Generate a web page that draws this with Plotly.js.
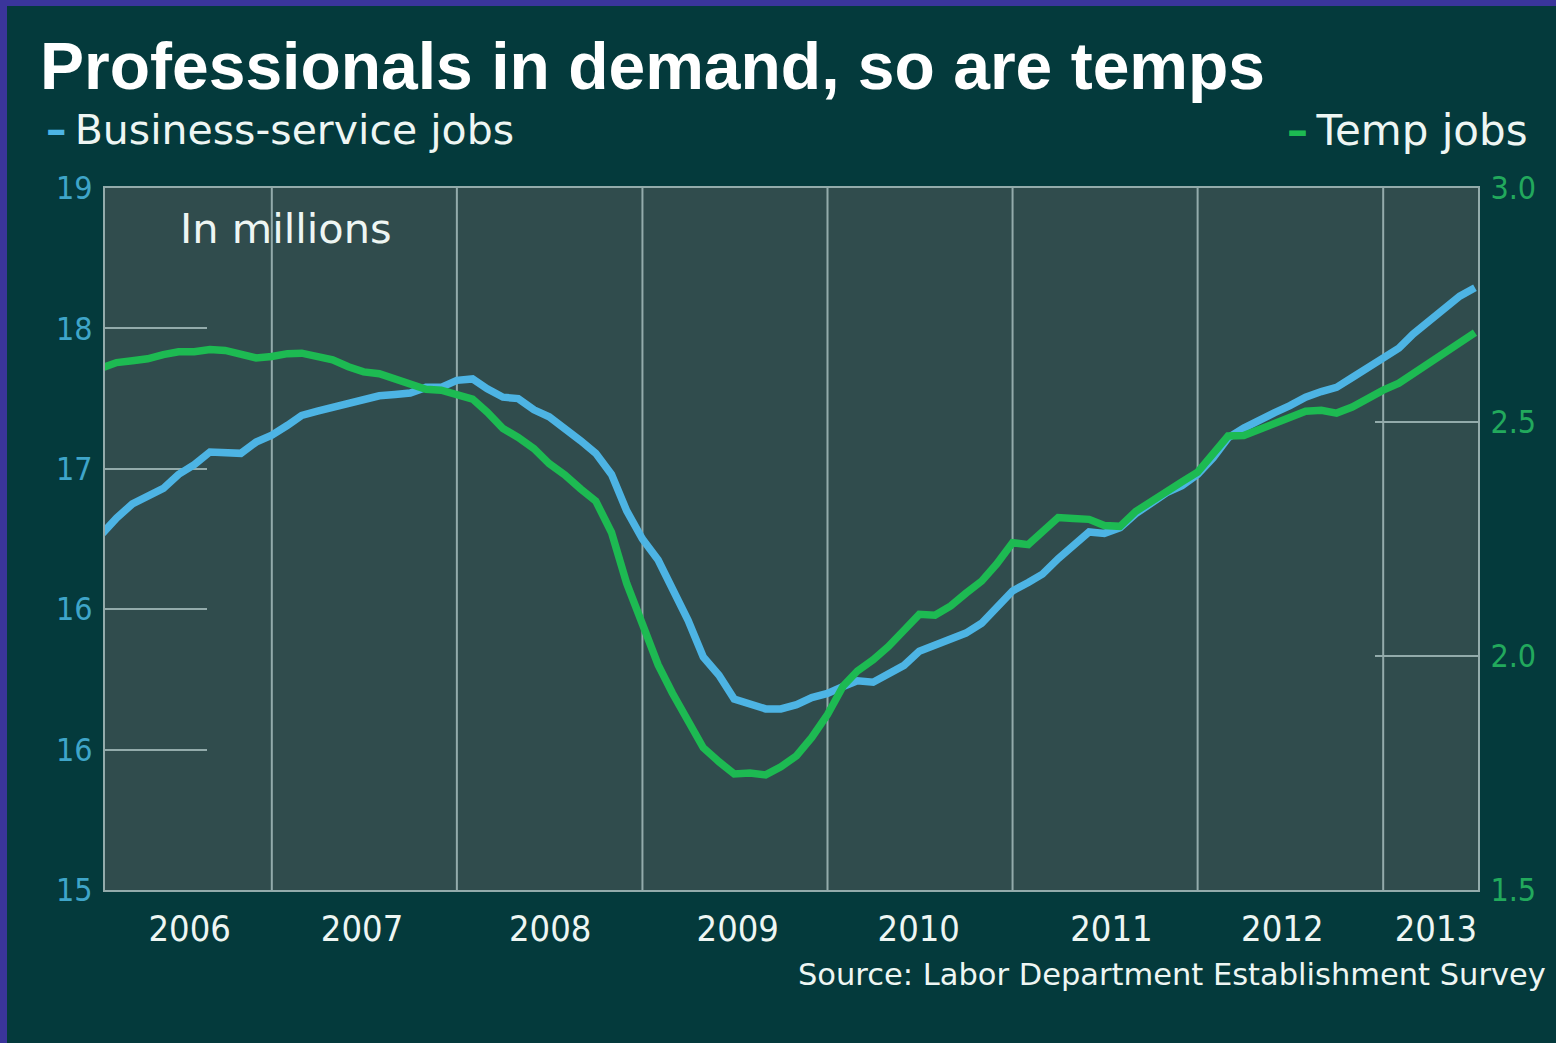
<!DOCTYPE html>
<html>
<head>
<meta charset="utf-8">
<script src="https://cdn.plot.ly/plotly-3.0.1.min.js"></script>
<style>
  html, body { margin: 0; padding: 0; background: #3a359b; width: 1556px; height: 1043px; overflow: hidden; }
  #chart { position: absolute; left: 7px; top: 6px; width: 1549px; height: 1037px; }
</style>
</head>
<body>
<div id="chart"></div>
<script>
// ---- data ----
const months = [
  '2006-02-01','2006-03-01','2006-04-01','2006-05-01','2006-06-01','2006-07-01','2006-08-01','2006-09-01','2006-10-01','2006-11-01','2006-12-01',
  '2007-01-01','2007-02-01','2007-03-01','2007-04-01','2007-05-01','2007-06-01','2007-07-01','2007-08-01','2007-09-01','2007-10-01','2007-11-01','2007-12-01',
  '2008-01-01','2008-02-01','2008-03-01','2008-04-01','2008-05-01','2008-06-01','2008-07-01','2008-08-01','2008-09-01','2008-10-01','2008-11-01','2008-12-01',
  '2009-01-01','2009-02-01','2009-03-01','2009-04-01','2009-05-01','2009-06-01','2009-07-01','2009-08-01','2009-09-01','2009-10-01','2009-11-01','2009-12-01',
  '2010-01-01','2010-02-01','2010-03-01','2010-04-01','2010-05-01','2010-06-01','2010-07-01','2010-08-01','2010-09-01','2010-10-01','2010-11-01','2010-12-01',
  '2011-01-01','2011-02-01','2011-03-01','2011-04-01','2011-05-01','2011-06-01','2011-07-01','2011-08-01','2011-09-01','2011-10-01','2011-11-01','2011-12-01',
  '2012-01-01','2012-02-01','2012-03-01','2012-04-01','2012-05-01','2012-06-01','2012-07-01','2012-08-01','2012-09-01','2012-10-01','2012-11-01','2012-12-01',
  '2013-01-01','2013-02-01','2013-03-01','2013-04-01','2013-05-01','2013-06-01','2013-07-01'
];

// Business-service jobs (left axis, in the chart's own scale)
const businessJobs = [
  16.54,16.65,16.75,16.81,16.86,16.96,17.03,17.12,17.12,17.11,17.19,
  17.24,17.31,17.38,17.41,17.44,17.47,17.50,17.52,17.53,17.54,17.58,17.58,
  17.63,17.64,17.57,17.51,17.50,17.42,17.37,17.29,17.20,17.11,16.96,16.70,
  16.50,16.35,16.14,15.92,15.66,15.53,15.36,15.33,15.29,15.29,15.32,15.37,
  15.40,15.45,15.49,15.48,15.54,15.60,15.70,15.74,15.79,15.83,15.90,16.01,
  16.13,16.19,16.25,16.36,16.45,16.55,16.54,16.58,16.68,16.76,16.83,16.88,
  16.96,17.08,17.22,17.29,17.35,17.40,17.45,17.51,17.55,17.58,17.65,17.72,
  17.79,17.86,17.96,18.05,18.15,18.23,18.29
];

// Temp jobs (right axis, millions)
const tempJobs = [
  2.616,2.627,2.631,2.635,2.644,2.650,2.650,2.655,2.653,2.644,2.637,
  2.640,2.646,2.647,2.641,2.633,2.618,2.607,2.603,2.592,2.579,2.570,2.568,
  2.560,2.549,2.521,2.486,2.467,2.443,2.411,2.387,2.357,2.331,2.264,2.155,
  2.068,1.981,1.921,1.858,1.804,1.774,1.748,1.750,1.746,1.763,1.787,1.826,
  1.875,1.936,1.968,1.992,2.020,2.055,2.089,2.087,2.107,2.134,2.160,2.197,
  2.242,2.238,2.264,2.296,2.294,2.292,2.279,2.277,2.309,2.331,2.352,2.372,
  2.393,2.435,2.470,2.471,2.484,2.499,2.512,2.523,2.525,2.519,2.532,2.551,
  2.568,2.583,2.603,2.624,2.644,2.670,2.691
];

const yearLabels = ['2006','2007','2008','2009','2010','2011','2012','2013'];
const yearBoundaries = ['2007-01-01','2008-01-01','2009-01-01','2010-01-01','2011-01-01','2012-01-01','2013-01-01'];
const leftTickText = ['15','16','16','17','18','19'];
const rightTickText = ['1.5','2.0','2.5','3.0'];

// ---- styling ----
const BG = '#043a3c';
const PLOTBG = '#304c4d';
const GRID = '#93abab';
const BLUE = '#4db4e4';
const GREEN = '#1dba52';
const WHITE = '#eef6f3';
const NARROW = '"Liberation Sans Narrow","DejaVu Sans Condensed","Arial Narrow",sans-serif';
const WIDE = '"DejaVu Sans",Verdana,sans-serif';

const traces = [
  { x: months, y: businessJobs, type: 'scatter', mode: 'lines', name: 'Business-service jobs',
    line: { color: BLUE, width: 7.5 }, yaxis: 'y', showlegend: false, hoverinfo: 'x+y' },
  { x: months, y: tempJobs, type: 'scatter', mode: 'lines', name: 'Temp jobs',
    line: { color: GREEN, width: 7.5 }, yaxis: 'y2', showlegend: false, hoverinfo: 'x+y' }
];

const labelPos = ['2006-07-23','2007-06-28','2008-07-03','2009-07-08','2010-06-30','2011-07-15','2012-06-16','2013-04-15'];

const layout = {
  width: 1549, height: 1037,
  paper_bgcolor: BG, plot_bgcolor: PLOTBG,
  margin: { l: 98, r: 78, t: 182, b: 153 },
  title: {
    text: '<b>Professionals in demand, so are temps</b>',
    font: { family: '"Liberation Sans",Arial,sans-serif', size: 66, color: '#ffffff' },
    xref: 'container', yref: 'container', x: 0.0213, xanchor: 'left', y: 1 - 60/1037, yanchor: 'middle'
  },
  xaxis: {
    type: 'date', range: ['2006-02-06','2013-07-07'],
    tickmode: 'array', tickvals: labelPos, ticktext: yearLabels,
    ticks: '', showgrid: false, zeroline: false,
    showline: true, mirror: true, linecolor: GRID, linewidth: 2,
    tickfont: { family: NARROW, size: 36, color: WHITE },
    ticklabelstandoff: 6
  },
  yaxis: {
    range: [14, 19], tickmode: 'array', tickvals: [14,15,16,17,18,19], ticktext: leftTickText,
    ticks: 'inside', ticklen: 102, tickwidth: 2, tickcolor: GRID,
    showgrid: false, zeroline: false, showline: true, linecolor: GRID, linewidth: 2,
    tickfont: { family: NARROW, size: 32, color: '#3fa5c9' },
    ticklabelstandoff: 4, layer: 'below traces'
  },
  yaxis2: {
    overlaying: 'y', side: 'right', anchor: 'x',
    range: [1.5, 3.0], tickmode: 'array', tickvals: [1.5,2.0,2.5,3.0], ticktext: rightTickText,
    ticks: 'inside', ticklen: 103, tickwidth: 2, tickcolor: GRID,
    showgrid: false, zeroline: false, showline: true, linecolor: GRID, linewidth: 2,
    tickfont: { family: NARROW, size: 32, color: '#22a95c' },
    ticklabelstandoff: 4, layer: 'below traces'
  },
  shapes: yearBoundaries.map(d => ({
    type: 'line', xref: 'x', yref: 'paper', x0: d, x1: d, y0: 0, y1: 1,
    line: { color: GRID, width: 2 }, layer: 'below'
  })),
  annotations: [
    { text: '<span style="color:' + BLUE + '"><b>–</b></span>\u2009Business-service jobs', xref: 'paper', yref: 'paper',
      x: -0.0445, xanchor: 'left', y: 1.0826, yanchor: 'middle', showarrow: false,
      font: { family: WIDE, size: 41, color: WHITE } },
    { text: '<span style="color:' + GREEN + '"><b>–</b></span>\u2009Temp jobs', xref: 'paper', yref: 'paper',
      x: 1.0379, xanchor: 'right', y: 1.0826, yanchor: 'middle', showarrow: false,
      font: { family: WIDE, size: 42, color: WHITE } },
    { text: 'In millions', xref: 'paper', yref: 'paper',
      x: 0.0535, xanchor: 'left', y: 0.943, yanchor: 'middle', showarrow: false,
      font: { family: WIDE, size: 41.5, color: WHITE } },
    { text: 'Source: Labor Department Establishment Survey', xref: 'paper', yref: 'paper',
      x: 1.051, xanchor: 'right', y: -0.121, yanchor: 'middle', showarrow: false,
      font: { family: WIDE, size: 30.5, color: WHITE } }
  ]
};

Plotly.newPlot('chart', traces, layout, { displayModeBar: false, staticPlot: true });
</script>
</body>
</html>
